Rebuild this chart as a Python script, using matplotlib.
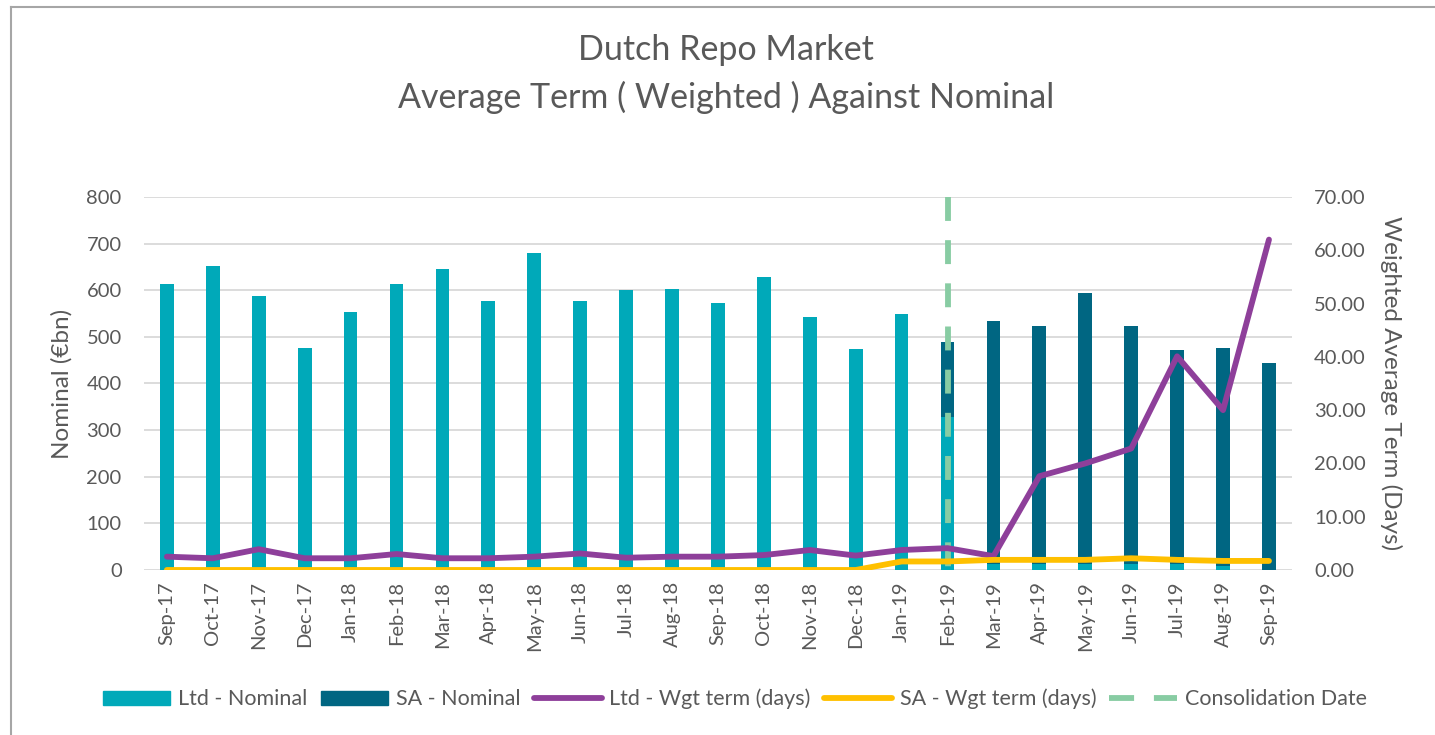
import matplotlib.pyplot as plt
import numpy as np
from matplotlib.lines import Line2D
from matplotlib.patches import Patch

# data
months = ["Sep-17", "Oct-17", "Nov-17", "Dec-17", "Jan-18", "Feb-18", "Mar-18", "Apr-18",
          "May-18", "Jun-18", "Jul-18", "Aug-18", "Sep-18", "Oct-18", "Nov-18", "Dec-18",
          "Jan-19", "Feb-19", "Mar-19", "Apr-19", "May-19", "Jun-19", "Jul-19", "Aug-19",
          "Sep-19"]
ltd_nominal = [613, 652, 588, 477, 553, 613, 645, 577, 680, 577, 601, 602, 573, 628, 543,
               474, 548, 328, 12, 12, 12, 12, 12, 9, 0]
sa_nominal = [0, 0, 0, 0, 0, 0, 0, 0, 0, 0, 0, 0, 0, 0, 0, 0, 0, 160, 523, 512, 582, 512,
              460, 467, 444]
ltd_term = [2.5, 2.2, 3.9, 2.2, 2.2, 3.0, 2.2, 2.2, 2.5, 3.1, 2.3, 2.5, 2.5, 2.8, 3.75,
            2.7, 3.75, 4.1, 2.6, 17.6, 20.0, 22.8, 40.1, 30.0, 62.0]
sa_term = [0, 0, 0, 0, 0, 0, 0, 0, 0, 0, 0, 0, 0, 0, 0, 0, 1.6, 1.6, 1.9, 1.9, 1.9, 2.2,
           1.9, 1.7, 1.7]
consolidation_month = "Feb-19"
consolidation_range = [70, 0]  # drawn top-down so a dash starts at the top

TEXT = "#595959"
C_LTD = "#00A9B9"
C_SA = "#006682"
C_PURPLE = "#8E3F9A"
C_YELLOW = "#FFC000"
C_GREEN = "#88CCA3"
LW = 4.2

plt.rcParams["font.family"] = ["Lato", "DejaVu Sans"]

fig = plt.figure(figsize=(14.35, 7.35), dpi=100)
ax = fig.add_axes([0.1003, 0.2245, 0.8, 0.5075])
ax2 = ax.twinx()

x = np.arange(len(months))
ax.bar(x, ltd_nominal, width=0.3, color=C_LTD, zorder=2)
ax.bar(x, sa_nominal, width=0.3, bottom=ltd_nominal, color=C_SA, zorder=2)

cx = months.index(consolidation_month)
ax2.plot([cx, cx], consolidation_range, color=C_GREEN, lw=LW, dashes=(4.1, 3.3), zorder=3)
ax2.plot(x, ltd_term, color=C_PURPLE, lw=LW, solid_capstyle="round",
         solid_joinstyle="round", zorder=4)
ax2.plot(x, sa_term, color=C_YELLOW, lw=LW, solid_capstyle="round",
         solid_joinstyle="round", zorder=5)

ax.set_xlim(-0.5, len(months) - 0.5)
ax.set_ylim(0, 800)
ax.set_yticks(range(0, 801, 100))
ax2.set_ylim(0, 70)
ax2.set_yticks(range(0, 71, 10))
ax2.set_yticklabels([f"{v:.2f}" for v in range(0, 71, 10)])

ax.set_xticks(x)
ax.set_xticklabels(months, rotation=90)
ax.grid(axis="y", color="#D9D9D9", lw=1.3, zorder=0)
ax.set_axisbelow(True)

for a in (ax, ax2):
    for s in a.spines.values():
        s.set_visible(False)
    a.tick_params(length=0, labelsize=14.5, labelcolor=TEXT)
ax.tick_params(axis="x", pad=8)
ax.tick_params(axis="y", pad=16)
ax2.tick_params(axis="y", pad=16)

ax.set_ylabel("Nominal (€bn)", fontsize=17.5, color=TEXT, labelpad=10)
ax2.set_ylabel("Weighted Average Term (Days)", fontsize=17.5, color=TEXT,
               rotation=270, labelpad=10, va="bottom")

fig.text(0.506, 1 - 50 / 735, "Dutch Repo Market", ha="center", va="center",
         fontsize=24.5, color=TEXT)
fig.text(0.506, 1 - 97 / 735, "Average Term ( Weighted ) Against Nominal", ha="center",
         va="center", fontsize=24.5, color=TEXT)

handles = [
    Patch(color=C_LTD),
    Patch(color=C_SA),
    Line2D([], [], color=C_PURPLE, lw=LW, solid_capstyle="round"),
    Line2D([], [], color=C_YELLOW, lw=LW, solid_capstyle="round"),
    Line2D([], [], color=C_GREEN, lw=LW, dashes=(4.3, 3.4)),
]
labels = ["Ltd - Nominal", "SA - Nominal", "Ltd - Wgt term (days)", "SA - Wgt term (days)",
          "Consolidation Date"]
leg = fig.legend(handles, labels, loc="center", bbox_to_anchor=(0.512, 1 - 699 / 735),
                 ncol=5, frameon=False, fontsize=15.5, handlelength=3.15,
                 handleheight=0.6, handletextpad=0.37, columnspacing=0.6)
for t in leg.get_texts():
    t.set_color(TEXT)

# frame lines of the chart area (top and left visible)
fig.add_artist(Line2D([11 / 1435, 1], [1 - 7 / 735, 1 - 7 / 735], color="#A6A6A6", lw=1.5,
                      transform=fig.transFigure))
fig.add_artist(Line2D([11 / 1435, 11 / 1435], [0, 1 - 7 / 735], color="#A6A6A6", lw=1.5,
                      transform=fig.transFigure))

fig.savefig("out.png", dpi=100)
plt.close(fig)
